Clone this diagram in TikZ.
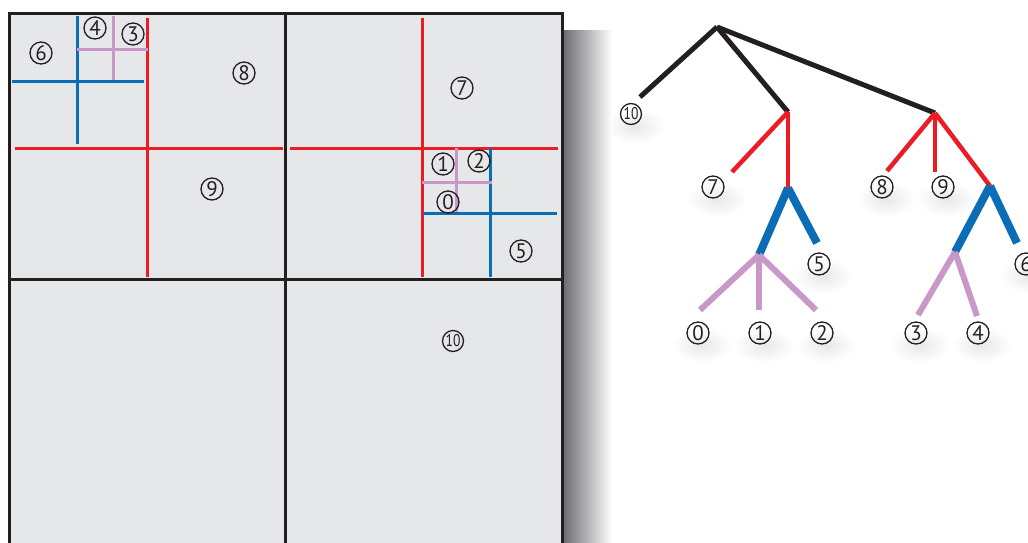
\documentclass[tikz,border=0pt]{standalone}
\usepackage{fontspec}
\newfontfamily\numfont{PT Sans}
\usetikzlibrary{positioning}
\definecolor{qRed}{HTML}{ED1C24}
\definecolor{qBlue}{HTML}{0A6DB5}
\definecolor{qPink}{HTML}{C998C9}
\definecolor{inkOne}{HTML}{231F20}
\definecolor{cellfill}{HTML}{E6E7E9}
\definecolor{shadeOne}{HTML}{6B6B72}
\tikzset{
  cell/.style={draw=inkOne, line width=3pt, fill=cellfill},
  cutR/.style={draw=qRed, line width=3pt},
  cutB/.style={draw=qBlue, line width=3pt},
  cutP/.style={draw=qPink, line width=3pt},
  num/.style={circle, draw=inkOne, line width=1.3pt, minimum size=22pt, inner sep=0pt,
    font=\numfont\fontsize{21}{21}\selectfont, text=inkOne},
  numw/.style={num, minimum size=21pt, font=\numfont\fontsize{17}{17}\selectfont},
  soft/.style={inner color=black!9, outer color=white},
  brK/.style={draw=inkOne, line width=5pt},
  brR/.style={draw=qRed, line width=4.5pt},
  brB/.style={draw=qBlue, line width=8pt},
  brP/.style={draw=qPink, line width=6pt},
}

\begin{document}
\begin{tikzpicture}[x=1pt, y=-1pt]
  \useasboundingbox (0,0) rectangle (1028,542);
  % soft shadows under the leaves
  \foreach \x/\y in {631/114, 713/187, 819/264, 698/333, 760/333, 822/333, 882/187, 943/187,
      1026/264, 916/333, 978/333}
    \shade[soft] (\x+4,\y+12) ellipse (30 and 18);
  % ---- shadow and the four cells
  \shade[left color=shadeOne, right color=white] (563,30) rectangle (612,542);
  \foreach \x/\y in {9/13, 285/13, 9/279, 285/279}
    \draw[cell] (\x,\y) rectangle ++(277,266);
  % ---- cuts, top left
  \draw[cutR] (147,18) -- (147,277);
  \draw[cutR] (15,148) -- (283,148);
  \draw[cutB] (77,16) -- (77,144);
  \draw[cutB] (12,81) -- (144,81);
  \draw[cutP] (113,16) -- (113,80);
  \draw[cutP] (77,49) -- (148,49);
  % ---- cuts, top right
  \draw[cutR] (422,18) -- (422,277);
  \draw[cutR] (290,148) -- (558,148);
  \draw[cutB] (490,148) -- (490,277);
  \draw[cutB] (423,213) -- (557,213);
  \draw[cutP] (456,148) -- (456,212);
  \draw[cutP] (422,182) -- (492,182);
  % ---- numbers in the cells
  \foreach \n/\t/\x/\y in {q4/4/95/28, q3/3/133/34, q6/6/41/53, q8/8/244/73, q9/9/212/189,
      q7/7/462/88, q1/1/443/164, q2/2/479/161, q0/0/448/202, q5/5/521/251}
    \node[num] (\n) at (\x,\y) {\t};
  \node[numw] (q10) at (453,341) {\scalebox{0.8}[1]{10}};
  % ---- tree
  \coordinate (root) at (717,27);
  \coordinate (a) at (788,112);
  \coordinate (b) at (935,113);
  \coordinate (c) at (788,188);
  \coordinate (d) at (759,255);
  \coordinate (e) at (990,186);
  \coordinate (f) at (955,252);
  \foreach \n/\x/\y in {t10/640/97, t7/732/172, t5/817/243, t0/700/310, t1/759/310, t2/816/310,
      t8/887/171, t9/935/172, t6/1017/243, t3/918/315, t4/977/316}
    \coordinate (\n) at (\x,\y);
  \foreach \m in {t10, a, b} \draw[brK] (root) -- (\m);
  \foreach \m in {t7, c} \draw[brR] (a) -- (\m);
  \foreach \m in {t8, t9, e} \draw[brR] (b) -- (\m);
  \foreach \m in {d, t5} \draw[brB] (c) -- (\m);
  \foreach \m in {f, t6} \draw[brB] (e) -- (\m);
  \foreach \m in {t0, t1, t2} \draw[brP] (d) -- (\m);
  \foreach \m in {t3, t4} \draw[brP] (f) -- (\m);
  \node[numw] (l10) at (631,114) {\scalebox{0.8}[1]{10}};
  \foreach \n/\t/\x/\y in {l7/7/713/187, l5/5/819/264, l0/0/698/333, l1/1/760/333, l2/2/822/333,
      l8/8/882/187, l9/9/943/187, l6/6/1026/264, l3/3/916/333, l4/4/978/333}
    \node[num] (\n) at (\x,\y) {\t};
\end{tikzpicture}
\end{document}
